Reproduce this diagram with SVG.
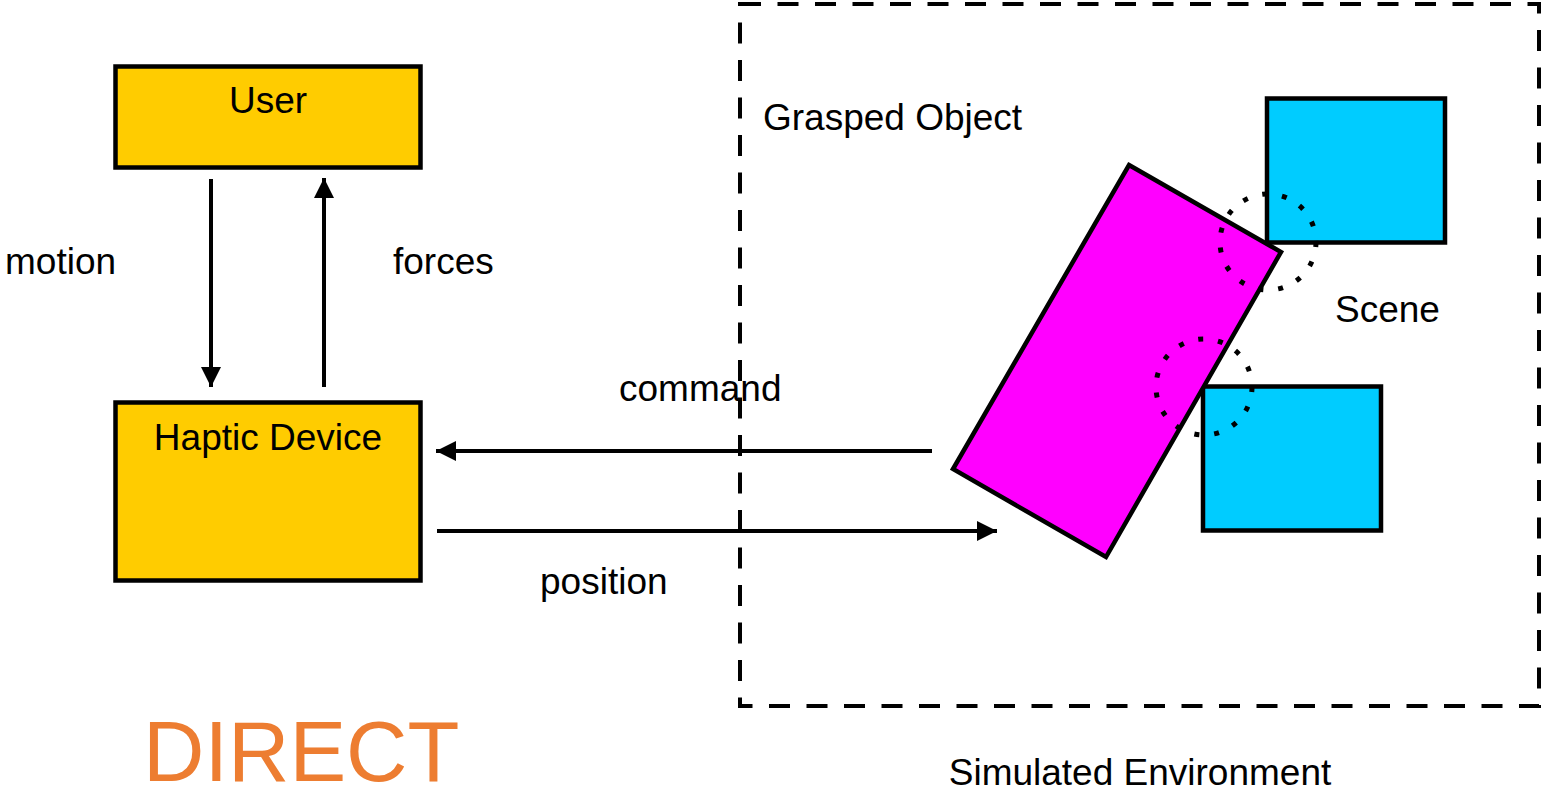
<svg xmlns="http://www.w3.org/2000/svg" width="1542" height="792" viewBox="0 0 1542 792">
  <style>
    .box { fill: #FFCC00; stroke: #000; stroke-width: 4.5; }
    .obj { stroke: #000; stroke-width: 4.5; }
    .lbl { font-family: "Liberation Sans", Arial, sans-serif; font-size: 37px; fill: #000; }
    .conn { stroke: #000; stroke-width: 4; fill: none; }
    .contact { fill: none; stroke: #000; stroke-width: 5; stroke-dasharray: 5 15; }
  </style>
  <defs>
    <marker id="arrow" markerUnits="userSpaceOnUse" markerWidth="20" markerHeight="20" viewBox="0 0 16 16" refX="16" refY="8" orient="auto">
      <path d="M0,0 L16,8 L0,16 Z" fill="#000"/>
    </marker>
  </defs>
  <rect width="1542" height="792" fill="#fff"/>

  <!-- simulation boundary -->
  <g id="simulated-environment">
    <rect x="740" y="4" width="799" height="702" fill="none" stroke="#000" stroke-width="4" stroke-dasharray="21 16.5"/>
    <text class="lbl" x="1140" y="785" text-anchor="middle">Simulated Environment</text>
  </g>

  <g id="user">
    <rect class="box" x="115.5" y="66.5" width="305" height="101"/>
    <text class="lbl" x="268" y="113" text-anchor="middle">User</text>
  </g>

  <g id="haptic-device">
    <rect class="box" x="115.5" y="402.5" width="305" height="178"/>
    <text class="lbl" x="268" y="450" text-anchor="middle">Haptic Device</text>
  </g>

  <g id="scene">
    <rect class="obj" fill="#00CCFF" x="1267" y="98.5" width="178" height="144"/>
    <rect class="obj" fill="#00CCFF" x="1203" y="386.5" width="178" height="144"/>
    <text class="lbl" x="1335" y="322">Scene</text>
  </g>

  <g id="grasped-object">
    <polygon class="obj" fill="#FF00FF" points="1129,165 1281,252 1106,557 953,469"/>
    <text class="lbl" x="763" y="130">Grasped Object</text>
  </g>

  <!-- contact regions -->
  <g id="contacts">
    <circle class="contact" cx="1268" cy="242" r="48"/>
    <circle class="contact" cx="1204" cy="387" r="48"/>
  </g>

  <g id="connectors">
    <line class="conn" x1="211" y1="179" x2="211" y2="387" marker-end="url(#arrow)"/>
    <line class="conn" x1="324" y1="387" x2="324" y2="178" marker-end="url(#arrow)"/>
    <line class="conn" x1="932" y1="451" x2="436" y2="451" marker-end="url(#arrow)"/>
    <line class="conn" x1="437" y1="531" x2="997" y2="531" marker-end="url(#arrow)"/>
    <text class="lbl" x="5" y="274">motion</text>
    <text class="lbl" x="393" y="274">forces</text>
    <text class="lbl" x="619" y="401">command</text>
    <text class="lbl" x="540" y="594">position</text>
  </g>

  <text id="mode-title" x="143" y="781" font-family="Liberation Sans, Arial, sans-serif" font-size="85" fill="#ED7D31">DIRECT</text>
</svg>
